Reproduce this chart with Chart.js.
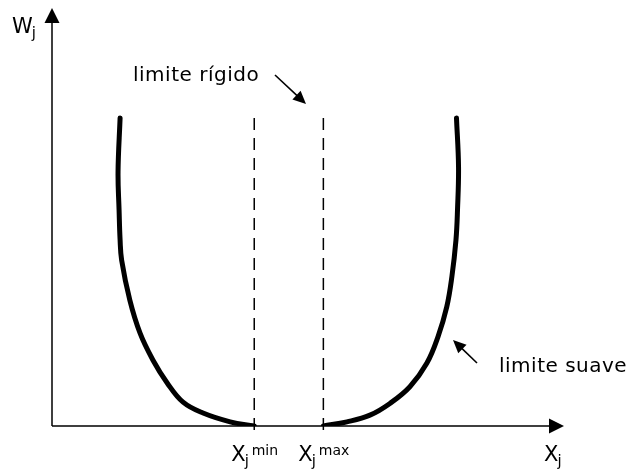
<!DOCTYPE html>
<html>
<head>
<meta charset="utf-8">
<script src="https://cdn.jsdelivr.net/npm/chart.js@4"></script>
<style>
  html, body { margin: 0; padding: 0; background: #fff; }
  canvas { display: block; }
</style>
</head>
<body>
<canvas id="chart" width="627" height="475"></canvas>
<script>
// curves (x and W in arbitrary units, 0..100)
const leftX = [13.3, 12.9, 13.1, 13.3, 13.6, 15.2, 17.2, 19.7, 22.5, 25.6, 29.5, 34.8, 39.5];
const leftW = [73.7, 60.8, 51.7, 44.5, 39.7, 30.1, 22.2, 15.8, 10.3, 5.7, 3.1, 1.0, 0];
const rightX = [53.0, 57.6, 62.1, 66.0, 69.9, 73.2, 75.4, 77.1, 78.1, 78.9, 79.2, 79.4, 79.0];
const rightW = [0, 1.0, 2.6, 5.4, 9.4, 15.0, 21.4, 28.5, 35.7, 44.5, 51.7, 62.0, 73.7];

// rigid limits
const xMin = 39.5;
const xMax = 53.0;
const limitTop = 73.7;
const limitBottom = -2.4;

const toPoints = (xs, ys) => xs.map((x, i) => ({ x: x, y: ys[i] }));

const FONT = '"DejaVu Sans", sans-serif';

function arrowHead(ctx, x1, y1, x2, y2, len, half) {
  const a = Math.atan2(y2 - y1, x2 - x1);
  ctx.beginPath();
  ctx.moveTo(x2, y2);
  ctx.lineTo(x2 - len * Math.cos(a) + half * Math.sin(a), y2 - len * Math.sin(a) - half * Math.cos(a));
  ctx.lineTo(x2 - len * Math.cos(a) - half * Math.sin(a), y2 - len * Math.sin(a) + half * Math.cos(a));
  ctx.closePath();
  ctx.fill();
}

function arrow(ctx, x1, y1, x2, y2, len, half) {
  const a = Math.atan2(y2 - y1, x2 - x1);
  ctx.beginPath();
  ctx.moveTo(x1, y1);
  ctx.lineTo(x2 - len * 0.8 * Math.cos(a), y2 - len * 0.8 * Math.sin(a));
  ctx.stroke();
  arrowHead(ctx, x1, y1, x2, y2, len, half);
}

function subLabel(ctx, x, y, main, sub, sup) {
  ctx.font = '21px ' + FONT;
  ctx.fillText(main, x, y);
  const w = ctx.measureText(main).width;
  ctx.font = '15px ' + FONT;
  ctx.fillText(sub, x + w - 1, y + 5);
  if (sup) {
    ctx.font = '14px ' + FONT;
    ctx.fillText(sup, x + w + 6, y - 6);
  }
}

const axesPlugin = {
  id: 'axes',
  afterDatasetsDraw(chart) {
    const ctx = chart.ctx;
    const xs = chart.scales.x;
    const ys = chart.scales.y;
    const ox = xs.getPixelForValue(0);
    const oy = ys.getPixelForValue(0);
    ctx.save();
    ctx.strokeStyle = '#000';
    ctx.fillStyle = '#000';
    ctx.lineWidth = 1.5;
    // axes with arrows
    ctx.beginPath();
    ctx.moveTo(ox, oy);
    ctx.lineTo(ox, ys.top + 10);
    ctx.moveTo(ox, oy);
    ctx.lineTo(xs.right - 10, oy);
    ctx.stroke();
    arrowHead(ctx, ox, oy, ox, ys.top, 15, 7.5);
    arrowHead(ctx, ox, oy, xs.right, oy, 15, 7.5);

    // annotation arrows
    ctx.lineWidth = 1.6;
    arrow(ctx, 275, 75, 306, 104, 13, 6);
    arrow(ctx, 477, 363, 453, 340, 13, 6);

    // texts
    ctx.textBaseline = 'alphabetic';
    ctx.textAlign = 'left';
    ctx.letterSpacing = '0.5px';
    ctx.font = '20px ' + FONT;
    ctx.fillText('limite rígido', 133, 81);
    ctx.fillText('limite suave', 499, 372);
    ctx.letterSpacing = '0px';

    subLabel(ctx, 12, 33, 'W', 'j');
    subLabel(ctx, 544, 461, 'X', 'j');
    subLabel(ctx, xs.getPixelForValue(xMin) - 23, 461, 'X', 'j', 'min');
    subLabel(ctx, xs.getPixelForValue(xMax) - 25, 461, 'X', 'j', 'max');
    ctx.restore();
  }
};

const curveStyle = {
  borderColor: '#000',
  borderWidth: 5,
  tension: 0.4,
  borderCapStyle: 'round',
  borderJoinStyle: 'round',
  pointRadius: 0,
};

const limitStyle = {
  borderColor: '#000',
  borderWidth: 1.5,
  borderDash: [12, 8],
  pointRadius: 0,
  clip: false,
};

new Chart(document.getElementById('chart'), {
  type: 'line',
  data: {
    datasets: [
      { ...curveStyle, data: toPoints(leftX, leftW) },
      { ...curveStyle, data: toPoints(rightX, rightW) },
      { ...limitStyle, data: [{ x: xMin, y: limitTop }, { x: xMin, y: limitBottom }] },
      { ...limitStyle, data: [{ x: xMax, y: limitTop }, { x: xMax, y: limitBottom }] },
    ],
  },
  options: {
    responsive: false,
    animation: false,
    layout: { padding: { left: 52, right: 63, top: 8, bottom: 49 } },
    plugins: { legend: { display: false }, tooltip: { enabled: false } },
    scales: {
      x: { type: 'linear', min: 0, max: 100, display: false },
      y: { type: 'linear', min: 0, max: 100, display: false },
    },
  },
  plugins: [axesPlugin],
});
</script>
</body>
</html>
